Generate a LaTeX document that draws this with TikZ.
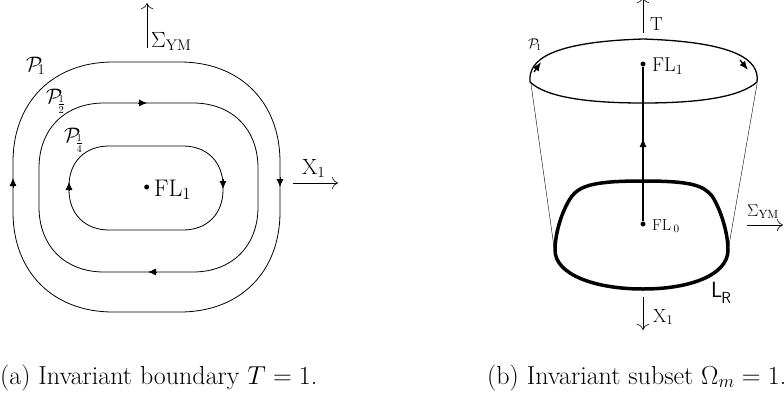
\RequirePackage{fix-cm}
\documentclass[tikz,border=0pt]{standalone}
\usepackage{amsmath}
\usetikzlibrary{arrows.meta}
\newcommand{\fs}[1]{\fontsize{#1}{#1}\selectfont}
\begin{document}
\begin{tikzpicture}[x=1pt,y=-1pt,
  orbit/.style={line width=0.8pt},
  tipA/.style={-{Latex[length=8pt,width=7pt]}},
  tipB/.style={-{Latex[length=9pt,width=7pt]}},
  axisarrow/.style={line width=0.6pt,-{To[length=6pt,width=12pt]}},
  lbl/.style={inner sep=0pt,anchor=base west},
  dotnode/.style={circle,fill=black,inner sep=0pt,minimum size=5pt},
  thickcurve/.style={line width=1.3pt},
  thin/.style={line width=0.4pt}]
\useasboundingbox (0,0) rectangle (784,402);
\clip (0,0) rectangle (784,402);
% ---------------- left figure ----------------
\draw[orbit] (113,62) -- (180,62) .. controls (240,62) and (280,102) .. (280,162)
  -- (280,212) .. controls (280,272) and (240,312) .. (180,312)
  -- (113,312) .. controls (53,312) and (13,272) .. (13,212)
  -- (13,162) .. controls (13,102) and (53,62) .. (113,62) -- cycle;
\draw[orbit] (104,103) -- (193,103) .. controls (232,103) and (258,129) .. (258,168)
  -- (258,207) .. controls (258,246) and (232,272) .. (193,272)
  -- (104,272) .. controls (65,272) and (39,246) .. (39,207)
  -- (39,168) .. controls (39,129) and (65,103) .. (104,103) -- cycle;
\draw[orbit] (109,146) -- (183,146) .. controls (207,146) and (223,162) .. (223,186)
  -- (223,190) .. controls (223,214) and (207,230) .. (183,230)
  -- (109,230) .. controls (85,230) and (69,214) .. (69,190)
  -- (69,186) .. controls (69,162) and (85,146) .. (109,146) -- cycle;
\draw[orbit,tipA] (13,188) -- (13,178);
\draw[orbit,tipA] (280,177) -- (280,187);
\draw[orbit,tipA] (138,103) -- (147,103);
\draw[orbit,tipA] (157,272) -- (148,272);
\draw[orbit,tipA] (69,191) -- (69,182);
\draw[orbit,tipA] (223,179) -- (223,189);
\node[dotnode] (fla) at (146.7,187) {};
\node[lbl,font=\fs{24}] (flalbl) at (154,196) {FL$_1$};
\coordinate (sigLb) at (147,48);
\coordinate (sigLt) at (147,3);
\draw[axisarrow] (sigLb) -- (sigLt);
\node[lbl,font=\fs{22}] (sigL) at (151,47) {$\Sigma_{\mathrm{YM}}$};
\coordinate (xLa) at (293,183);
\coordinate (xLb) at (338,183);
\draw[axisarrow] (xLa) -- (xLb);
\node[lbl,font=\fs{22}] (xL) at (302,174) {X$_1$};
\node[lbl,font=\fs{21}] (p1) at (26,71) {$\mathcal{P}\kern-5pt{}_1$};
\node[lbl,font=\fs{21}] (p2) at (46,103) {$\mathcal{P}\kern-5pt{}_{\frac{1}{2}}$};
\node[lbl,font=\fs{21}] (p4) at (64,142) {$\mathcal{P}\kern-5pt{}_{\frac{1}{4}}$};
% ---------------- right figure ----------------
\draw[thickcurve] (530,82) .. controls (528,60) and (550,42) .. (643,39)
  .. controls (736,42) and (760,60) .. (757,82)
  .. controls (740,97) and (700,103) .. (643,103)
  .. controls (586,103) and (546,97) .. (530,82) -- cycle;
\draw[thickcurve,tipB] (534,72) -- (541,62);
\draw[thickcurve,tipB] (740,60) -- (748,70);
\draw[thin] (531,84) -- (554,247);
\draw[thin] (757,84) -- (729,245);
\draw[line width=3.5pt] (643,181) .. controls (690,181) and (703,185) .. (712,196)
  .. controls (720,208) and (728,232) .. (728,250)
  .. controls (728,275) and (690,289) .. (643,289)
  .. controls (596,289) and (555,275) .. (555,250)
  .. controls (555,232) and (563,208) .. (572,196)
  .. controls (581,185) and (596,181) .. (643,181) -- cycle;
\node[dotnode] (flb) at (643,64) {};
\node[dotnode] (flz) at (643,224) {};
\draw[thickcurve] (flz) -- (flb);
\draw[thickcurve,tipB] (643,148) -- (643,138);
\node[lbl,font=\fs{20}] (flblbl) at (652,71) {FL$_1$};
\node[lbl,font=\fs{16}] (flzlbl) at (652,230) {FL$\,_0$};
\node[lbl,font=\fs{14}] (pr) at (528,48) {$\mathcal{P}\kern-3pt{}_1$};
\coordinate (tA) at (643,33);
\coordinate (tB) at (643,-3);
\draw[axisarrow] (tA) -- (tB);
\node[lbl,font=\fs{19}] (tlbl) at (650,30) {T};
\coordinate (sRa) at (747,225);
\coordinate (sRb) at (783,225);
\draw[axisarrow] (sRa) -- (sRb);
\node[lbl,font=\fs{17}] (sigR) at (747,216) {$\Sigma_{\mathrm{YM}}$};
\coordinate (xRa) at (643,297);
\coordinate (xRb) at (643,330);
\draw[axisarrow] (xRa) -- (xRb);
\node[lbl,font=\fs{19}] (xR) at (653,322) {X$_1$};
\node[lbl,font=\fs{22}\sffamily] (lr) at (711,297) {L\kern-1pt\raisebox{-6pt}{\fs{16}R}};
% ---------------- captions ----------------
\node[lbl,font=\fs{26}] (capa) at (0,384) {(a) Invariant boundary $T=1$.};
\node[lbl,font=\fs{26}] (capb) at (487,384) {(b) Invariant subset $\Omega_m=1$.};
\end{tikzpicture}
\end{document}
